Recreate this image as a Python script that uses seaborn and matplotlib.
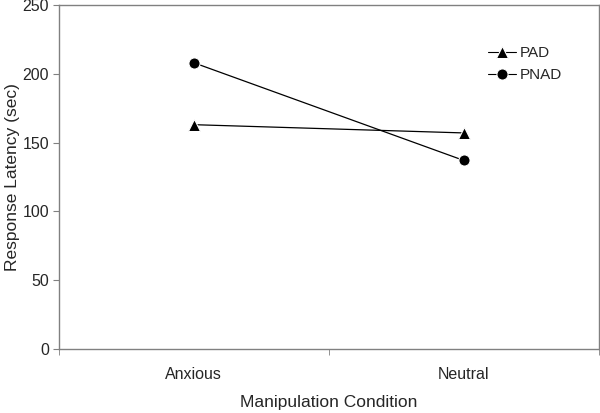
import pandas as pd
import seaborn as sns
import matplotlib.pyplot as plt
from matplotlib.ticker import FixedLocator

sns.set_style("white")
plt.rcParams['font.family'] = ['Liberation Sans', 'DejaVu Sans']

# data
conditions = ["Anxious", "Neutral"]
pad = [163, 157]
pnad = [208, 137]

df = pd.DataFrame({
    "condition": conditions * 2,
    "latency": pad + pnad,
    "group": ["PAD"] * 2 + ["PNAD"] * 2,
})
df["x"] = df["condition"].map({c: i for i, c in enumerate(conditions)})

fig = plt.figure(figsize=(6, 4.13), dpi=100)
ax = fig.add_axes([0.098, 0.155, 0.9, 0.833])

sns.lineplot(data=df, x="x", y="latency", hue="group", style="group",
             markers={"PAD": "^", "PNAD": "o"}, dashes=False,
             palette={"PAD": "black", "PNAD": "black"},
             markersize=8, linewidth=0.9, ax=ax)

ax.set_xlim(-0.5, 1.5)
ax.set_ylim(0, 250)
ax.set_xticks(range(len(conditions)))
ax.set_xticklabels(conditions, fontsize=11.5)
ax.xaxis.set_minor_locator(FixedLocator([-0.5, 0.5, 1.5]))
ax.tick_params(axis="x", which="major", length=0, pad=13)
ax.tick_params(axis="x", which="minor", length=4, direction="out", color="#808080", bottom=True)
ax.set_yticks(range(0, 251, 50))
ax.tick_params(axis="y", length=4, direction="out", color="#808080", left=True,
               labelsize=11.5, pad=3)

for s in ax.spines.values():
    s.set_color("#808080")
    s.set_linewidth(1)

ax.set_xlabel("Manipulation Condition", fontsize=12.5, labelpad=9)
ax.set_ylabel("Response Latency (sec)", fontsize=12.5, labelpad=2)

leg = ax.legend(frameon=False, loc="upper left", bbox_to_anchor=(0.795, 0.88),
                fontsize=11, handlelength=1.8, handletextpad=0.3,
                labelspacing=0.5, borderaxespad=0, borderpad=0)
for h in leg.legend_handles:
    h.set_linewidth(0.8)

fig.savefig("out.png", dpi=100)
